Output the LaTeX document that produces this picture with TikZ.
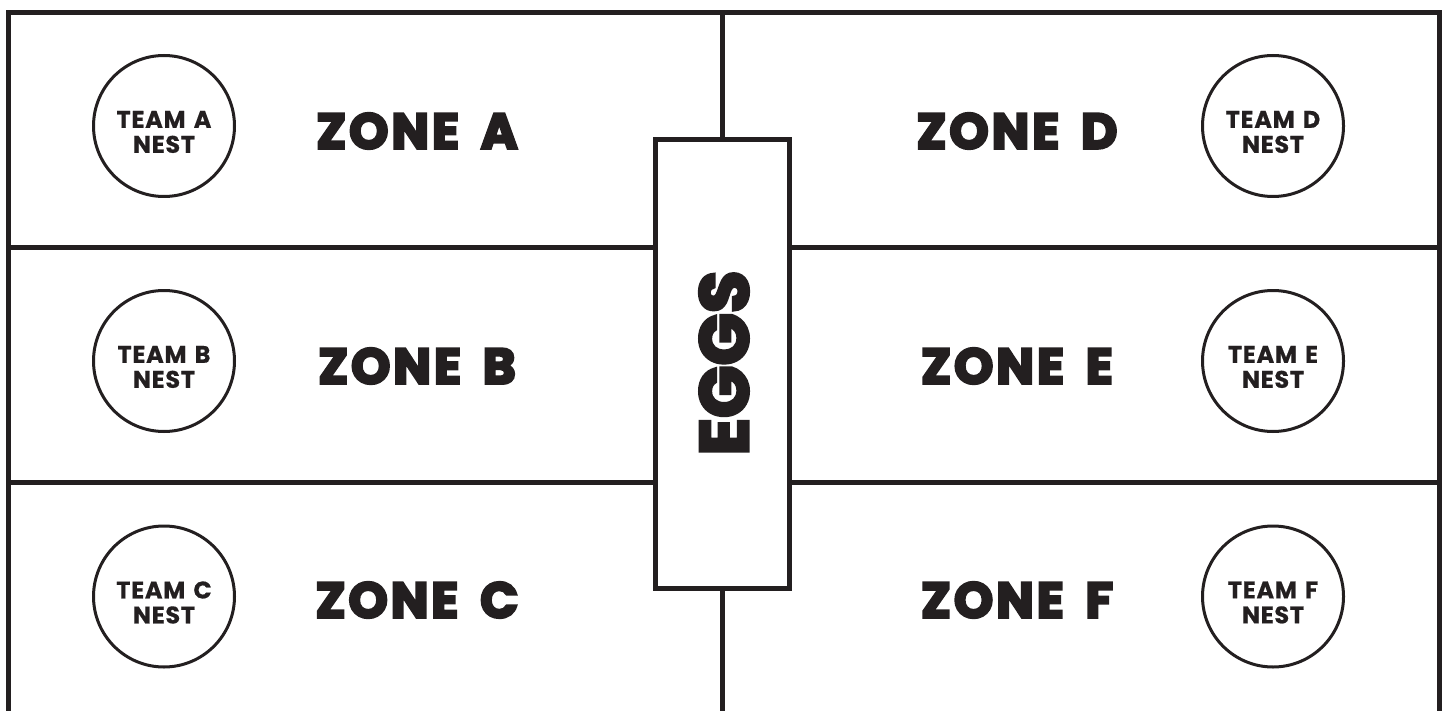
\documentclass[tikz,border=0pt]{standalone}
\usepackage{fontspec}
\setmainfont{Poppins}
\newfontfamily\zonefont{Poppins}[FakeBold=5, LetterSpace=6, WordSpace=1.6]
\newfontfamily\eggfont{Poppins}[FakeBold=5, LetterSpace=1]
\newfontfamily\nestfont{Poppins}[FakeBold=0.5, LetterSpace=3, WordSpace=1.4]
\usetikzlibrary{positioning}
\definecolor{ink}{HTML}{231F20}
\tikzset{
  fieldline/.style={draw=ink, line width=5pt},
  eggbox/.style={draw=ink, line width=5pt, fill=white, minimum width=134pt, minimum height=449pt, inner sep=0pt},
  eggtext/.style={text=ink, rotate=90, inner sep=0pt, font=\eggfont\bfseries\fontsize{68}{68}\selectfont},
  nest/.style={draw=ink, circle, line width=3pt, minimum size=141pt, inner sep=0pt},
  nesttext/.style={text=ink, inner sep=0pt, align=center, font=\nestfont\bfseries\fontsize{24}{25}\selectfont},
  zonelabel/.style={text=ink, inner sep=0pt, font=\zonefont\bfseries\fontsize{50}{50}\selectfont}
}
\begin{document}
\begin{tikzpicture}[x=1pt, y=-1pt]
  \useasboundingbox (0,0) rectangle (1447,711);
  % outer field, open at the bottom
  \coordinate (fbl) at (8.5,711);
  \coordinate (ftl) at (8.5,12.5);
  \coordinate (ftr) at (1439.5,12.5);
  \coordinate (fbr) at (1439.5,711);
  \draw[fieldline] (fbl) -- (ftl) -- (ftr) -- (fbr);
  % egg box in the middle
  \node[eggbox] (eggs) at (722,364) {};
  \node[eggtext] (eggslabel) at (724,363) {EGGS};
  \coordinate (midtop) at (722,12.5);
  \coordinate (midbot) at (722,711);
  \draw[fieldline] (midtop) -- (eggs.north);
  \draw[fieldline] (eggs.south) -- (midbot);
  % zone dividers
  \foreach \y [count=\i] in {247.5,482.5} {
    \coordinate (wl\i) at (8.5,\y);
    \coordinate (wr\i) at (1439.5,\y);
    \draw[fieldline] (wl\i) -- (wl\i -| eggs.west);
    \draw[fieldline] (eggs.east |- wr\i) -- (wr\i);
  }
  % nests
  \foreach \team/\x/\y in {A/164/126, B/164/361, C/164/596.5, D/1273/126, E/1273/361, F/1273/596.5} {
    \node[nest] (nest\team) at (\x,\y) {};
    \node[nesttext] (nestlabel\team) at ([yshift=-6pt]nest\team.center) {TEAM \team\\NEST};
  }
  % zone names
  \foreach \zone/\x/\y in {A/417/131, B/417/366, C/417/600, D/1017/131, E/1017/366, F/1017/600}
    \node[zonelabel] (zone\zone) at (\x,\y) {ZONE \zone};
\end{tikzpicture}
\end{document}
